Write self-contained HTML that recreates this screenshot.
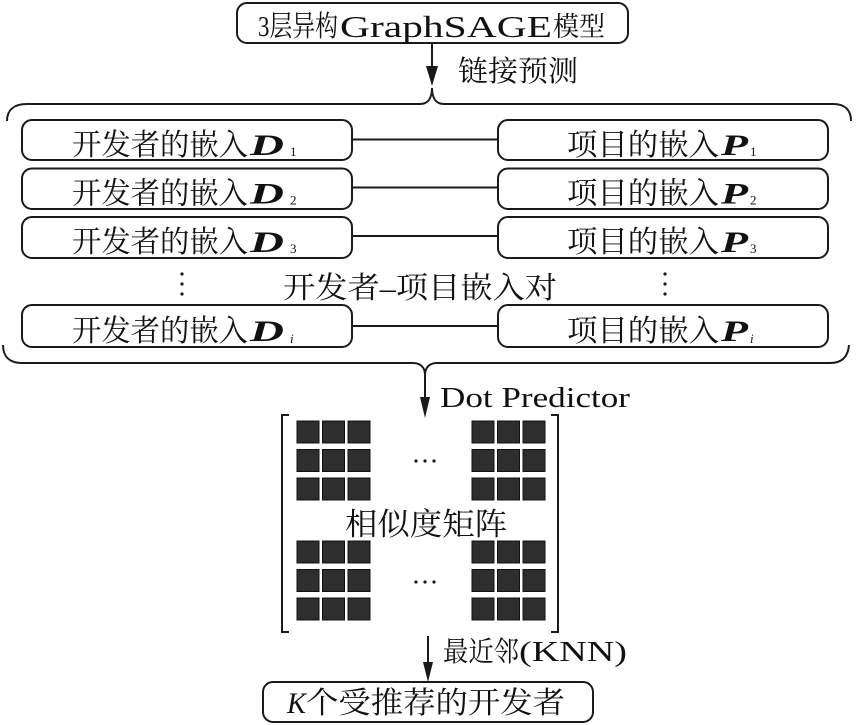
<!DOCTYPE html>
<html>
<head>
<meta charset="utf-8">
<style>
html,body{margin:0;padding:0;background:#fff;}
svg{display:block;}
text{font-family:"Liberation Serif","Noto Serif CJK SC",serif;fill:#111;}
.cjk{font-family:"Noto Serif CJK SC","Liberation Serif",serif;}
.bi{font-family:"Liberation Serif",serif;font-weight:bold;font-style:italic;}
.it{font-family:"Liberation Serif",serif;font-style:italic;}
</style>
</head>
<body>
<svg width="859" height="725" viewBox="0 0 859 725" xmlns="http://www.w3.org/2000/svg">
<g fill="none" stroke="#1a1a1a" stroke-width="2">
  <rect x="237" y="3" width="391" height="40" rx="10"/>
  <line x1="432" y1="43" x2="432" y2="80"/>
  <path d="M7,121 C7,110 14,104 27,104 L420,104 C428,104 432,98 432,88 C432,98 436,104 444,104 L833,104 C845,104 851,110 851,121"/>
  <rect x="22" y="120" width="330" height="40" rx="10"/>
  <rect x="498" y="120" width="330" height="40" rx="10"/>
  <rect x="22" y="168.5" width="330" height="40.5" rx="10"/>
  <rect x="498" y="168.5" width="330" height="40.5" rx="10"/>
  <rect x="22" y="217" width="330" height="41" rx="10"/>
  <rect x="498" y="217" width="330" height="41" rx="10"/>
  <rect x="22" y="305" width="330" height="42" rx="10"/>
  <rect x="498" y="305" width="330" height="42" rx="10"/>
  <line x1="352" y1="139.5" x2="498" y2="139.5"/>
  <line x1="352" y1="187.5" x2="498" y2="187.5"/>
  <line x1="352" y1="236" x2="498" y2="236"/>
  <line x1="352" y1="326" x2="498" y2="326"/>
  <path d="M3,345 C3,357 10,363 22,363 L413,363 C420,363 425,367 425,375 C425,367 430,363 437,363 L830,363 C842,363 848,357 849,345"/>
  <line x1="425" y1="375" x2="425" y2="402"/>
  <path d="M289,415 L282,415 L282,632 L289,632"/>
  <path d="M551,415 L558,415 L558,632 L551,632"/>
  <line x1="428" y1="636" x2="428" y2="666"/>
  <rect x="263" y="682" width="330" height="40" rx="10"/>
</g>
<g fill="#1a1a1a">
  <polygon points="426,66 438,66 432,86"/>
  <polygon points="420,397 430,397 425,418"/>
  <polygon points="423,662 433,662 428,682"/>
  <circle cx="182" cy="274" r="1.6"/><circle cx="182" cy="284" r="1.6"/><circle cx="182" cy="294" r="1.6"/>
  <circle cx="665" cy="274" r="1.6"/><circle cx="665" cy="284" r="1.6"/><circle cx="665" cy="294" r="1.6"/>
  <circle cx="416" cy="461" r="1.6"/><circle cx="425" cy="461" r="1.6"/><circle cx="434" cy="461" r="1.6"/>
  <circle cx="416" cy="582" r="1.6"/><circle cx="425" cy="582" r="1.6"/><circle cx="434" cy="582" r="1.6"/>
</g>
<g fill="#2e2e2e" stroke="#111" stroke-width="1">
  <rect x="297" y="421" width="22" height="22"/><rect x="322.5" y="421" width="22" height="22"/><rect x="348" y="421" width="22" height="22"/>
  <rect x="297" y="449.5" width="22" height="22"/><rect x="322.5" y="449.5" width="22" height="22"/><rect x="348" y="449.5" width="22" height="22"/>
  <rect x="297" y="478" width="22" height="22"/><rect x="322.5" y="478" width="22" height="22"/><rect x="348" y="478" width="22" height="22"/>
  <rect x="472" y="421" width="22" height="22"/><rect x="497.5" y="421" width="22" height="22"/><rect x="523" y="421" width="22" height="22"/>
  <rect x="472" y="449.5" width="22" height="22"/><rect x="497.5" y="449.5" width="22" height="22"/><rect x="523" y="449.5" width="22" height="22"/>
  <rect x="472" y="478" width="22" height="22"/><rect x="497.5" y="478" width="22" height="22"/><rect x="523" y="478" width="22" height="22"/>
  <rect x="297" y="541" width="22" height="22"/><rect x="322.5" y="541" width="22" height="22"/><rect x="348" y="541" width="22" height="22"/>
  <rect x="297" y="569.5" width="22" height="22"/><rect x="322.5" y="569.5" width="22" height="22"/><rect x="348" y="569.5" width="22" height="22"/>
  <rect x="297" y="598" width="22" height="22"/><rect x="322.5" y="598" width="22" height="22"/><rect x="348" y="598" width="22" height="22"/>
  <rect x="472" y="541" width="22" height="22"/><rect x="497.5" y="541" width="22" height="22"/><rect x="523" y="541" width="22" height="22"/>
  <rect x="472" y="569.5" width="22" height="22"/><rect x="497.5" y="569.5" width="22" height="22"/><rect x="523" y="569.5" width="22" height="22"/>
  <rect x="472" y="598" width="22" height="22"/><rect x="497.5" y="598" width="22" height="22"/><rect x="523" y="598" width="22" height="22"/>
</g>

<text x="258" y="36" font-size="29" textLength="80" lengthAdjust="spacingAndGlyphs">3层异构</text>
<text x="340" y="37" font-size="31" textLength="212" lengthAdjust="spacingAndGlyphs">GraphSAGE</text>
<text x="553" y="36" class="cjk" font-size="27" textLength="52" lengthAdjust="spacingAndGlyphs">模型</text>

<text x="458" y="81" class="cjk" font-size="29" textLength="120" lengthAdjust="spacingAndGlyphs">链接预测</text>

<g>
  <text x="72" y="155" class="cjk" font-size="30" textLength="176" lengthAdjust="spacingAndGlyphs">开发者的嵌入</text>
  <text x="250" y="155" class="bi" font-size="30" textLength="34" lengthAdjust="spacingAndGlyphs">D</text>
  <text x="290" y="156" font-size="13">1</text>
  <text x="567" y="155" class="cjk" font-size="30" textLength="152" lengthAdjust="spacingAndGlyphs">项目的嵌入</text>
  <text x="721" y="155" class="bi" font-size="30" textLength="27" lengthAdjust="spacingAndGlyphs">P</text>
  <text x="750" y="156" font-size="13">1</text>
</g>
<g transform="translate(0,48.5)">
  <text x="72" y="155" class="cjk" font-size="30" textLength="176" lengthAdjust="spacingAndGlyphs">开发者的嵌入</text>
  <text x="250" y="155" class="bi" font-size="30" textLength="34" lengthAdjust="spacingAndGlyphs">D</text>
  <text x="290" y="156" font-size="13">2</text>
  <text x="567" y="155" class="cjk" font-size="30" textLength="152" lengthAdjust="spacingAndGlyphs">项目的嵌入</text>
  <text x="721" y="155" class="bi" font-size="30" textLength="27" lengthAdjust="spacingAndGlyphs">P</text>
  <text x="750" y="156" font-size="13">2</text>
</g>
<g transform="translate(0,97)">
  <text x="72" y="155" class="cjk" font-size="30" textLength="176" lengthAdjust="spacingAndGlyphs">开发者的嵌入</text>
  <text x="250" y="155" class="bi" font-size="30" textLength="34" lengthAdjust="spacingAndGlyphs">D</text>
  <text x="290" y="156" font-size="13">3</text>
  <text x="567" y="155" class="cjk" font-size="30" textLength="152" lengthAdjust="spacingAndGlyphs">项目的嵌入</text>
  <text x="721" y="155" class="bi" font-size="30" textLength="27" lengthAdjust="spacingAndGlyphs">P</text>
  <text x="750" y="156" font-size="13">3</text>
</g>
<g transform="translate(0,186)">
  <text x="72" y="155" class="cjk" font-size="30" textLength="176" lengthAdjust="spacingAndGlyphs">开发者的嵌入</text>
  <text x="250" y="155" class="bi" font-size="30" textLength="34" lengthAdjust="spacingAndGlyphs">D</text>
  <text x="290" y="157" class="it" font-size="13">i</text>
  <text x="567" y="155" class="cjk" font-size="30" textLength="152" lengthAdjust="spacingAndGlyphs">项目的嵌入</text>
  <text x="721" y="155" class="bi" font-size="30" textLength="27" lengthAdjust="spacingAndGlyphs">P</text>
  <text x="750" y="157" class="it" font-size="13">i</text>
</g>

<text x="283" y="298" font-size="30" textLength="274" lengthAdjust="spacingAndGlyphs">开发者–项目嵌入对</text>

<text x="440" y="407" font-size="29" textLength="190" lengthAdjust="spacingAndGlyphs">Dot Predictor</text>

<text x="345" y="535" class="cjk" font-size="31" textLength="162" lengthAdjust="spacingAndGlyphs">相似度矩阵</text>

<text x="443" y="661" class="cjk" font-size="28" textLength="76" lengthAdjust="spacingAndGlyphs">最近邻</text>
<text x="519" y="661" font-size="29" textLength="108" lengthAdjust="spacingAndGlyphs">(KNN)</text>

<text x="287" y="713" class="it" font-size="30" textLength="19" lengthAdjust="spacingAndGlyphs">K</text>
<text x="306" y="713" class="cjk" font-size="30" textLength="259" lengthAdjust="spacingAndGlyphs">个受推荐的开发者</text>
</svg>
</body>
</html>
